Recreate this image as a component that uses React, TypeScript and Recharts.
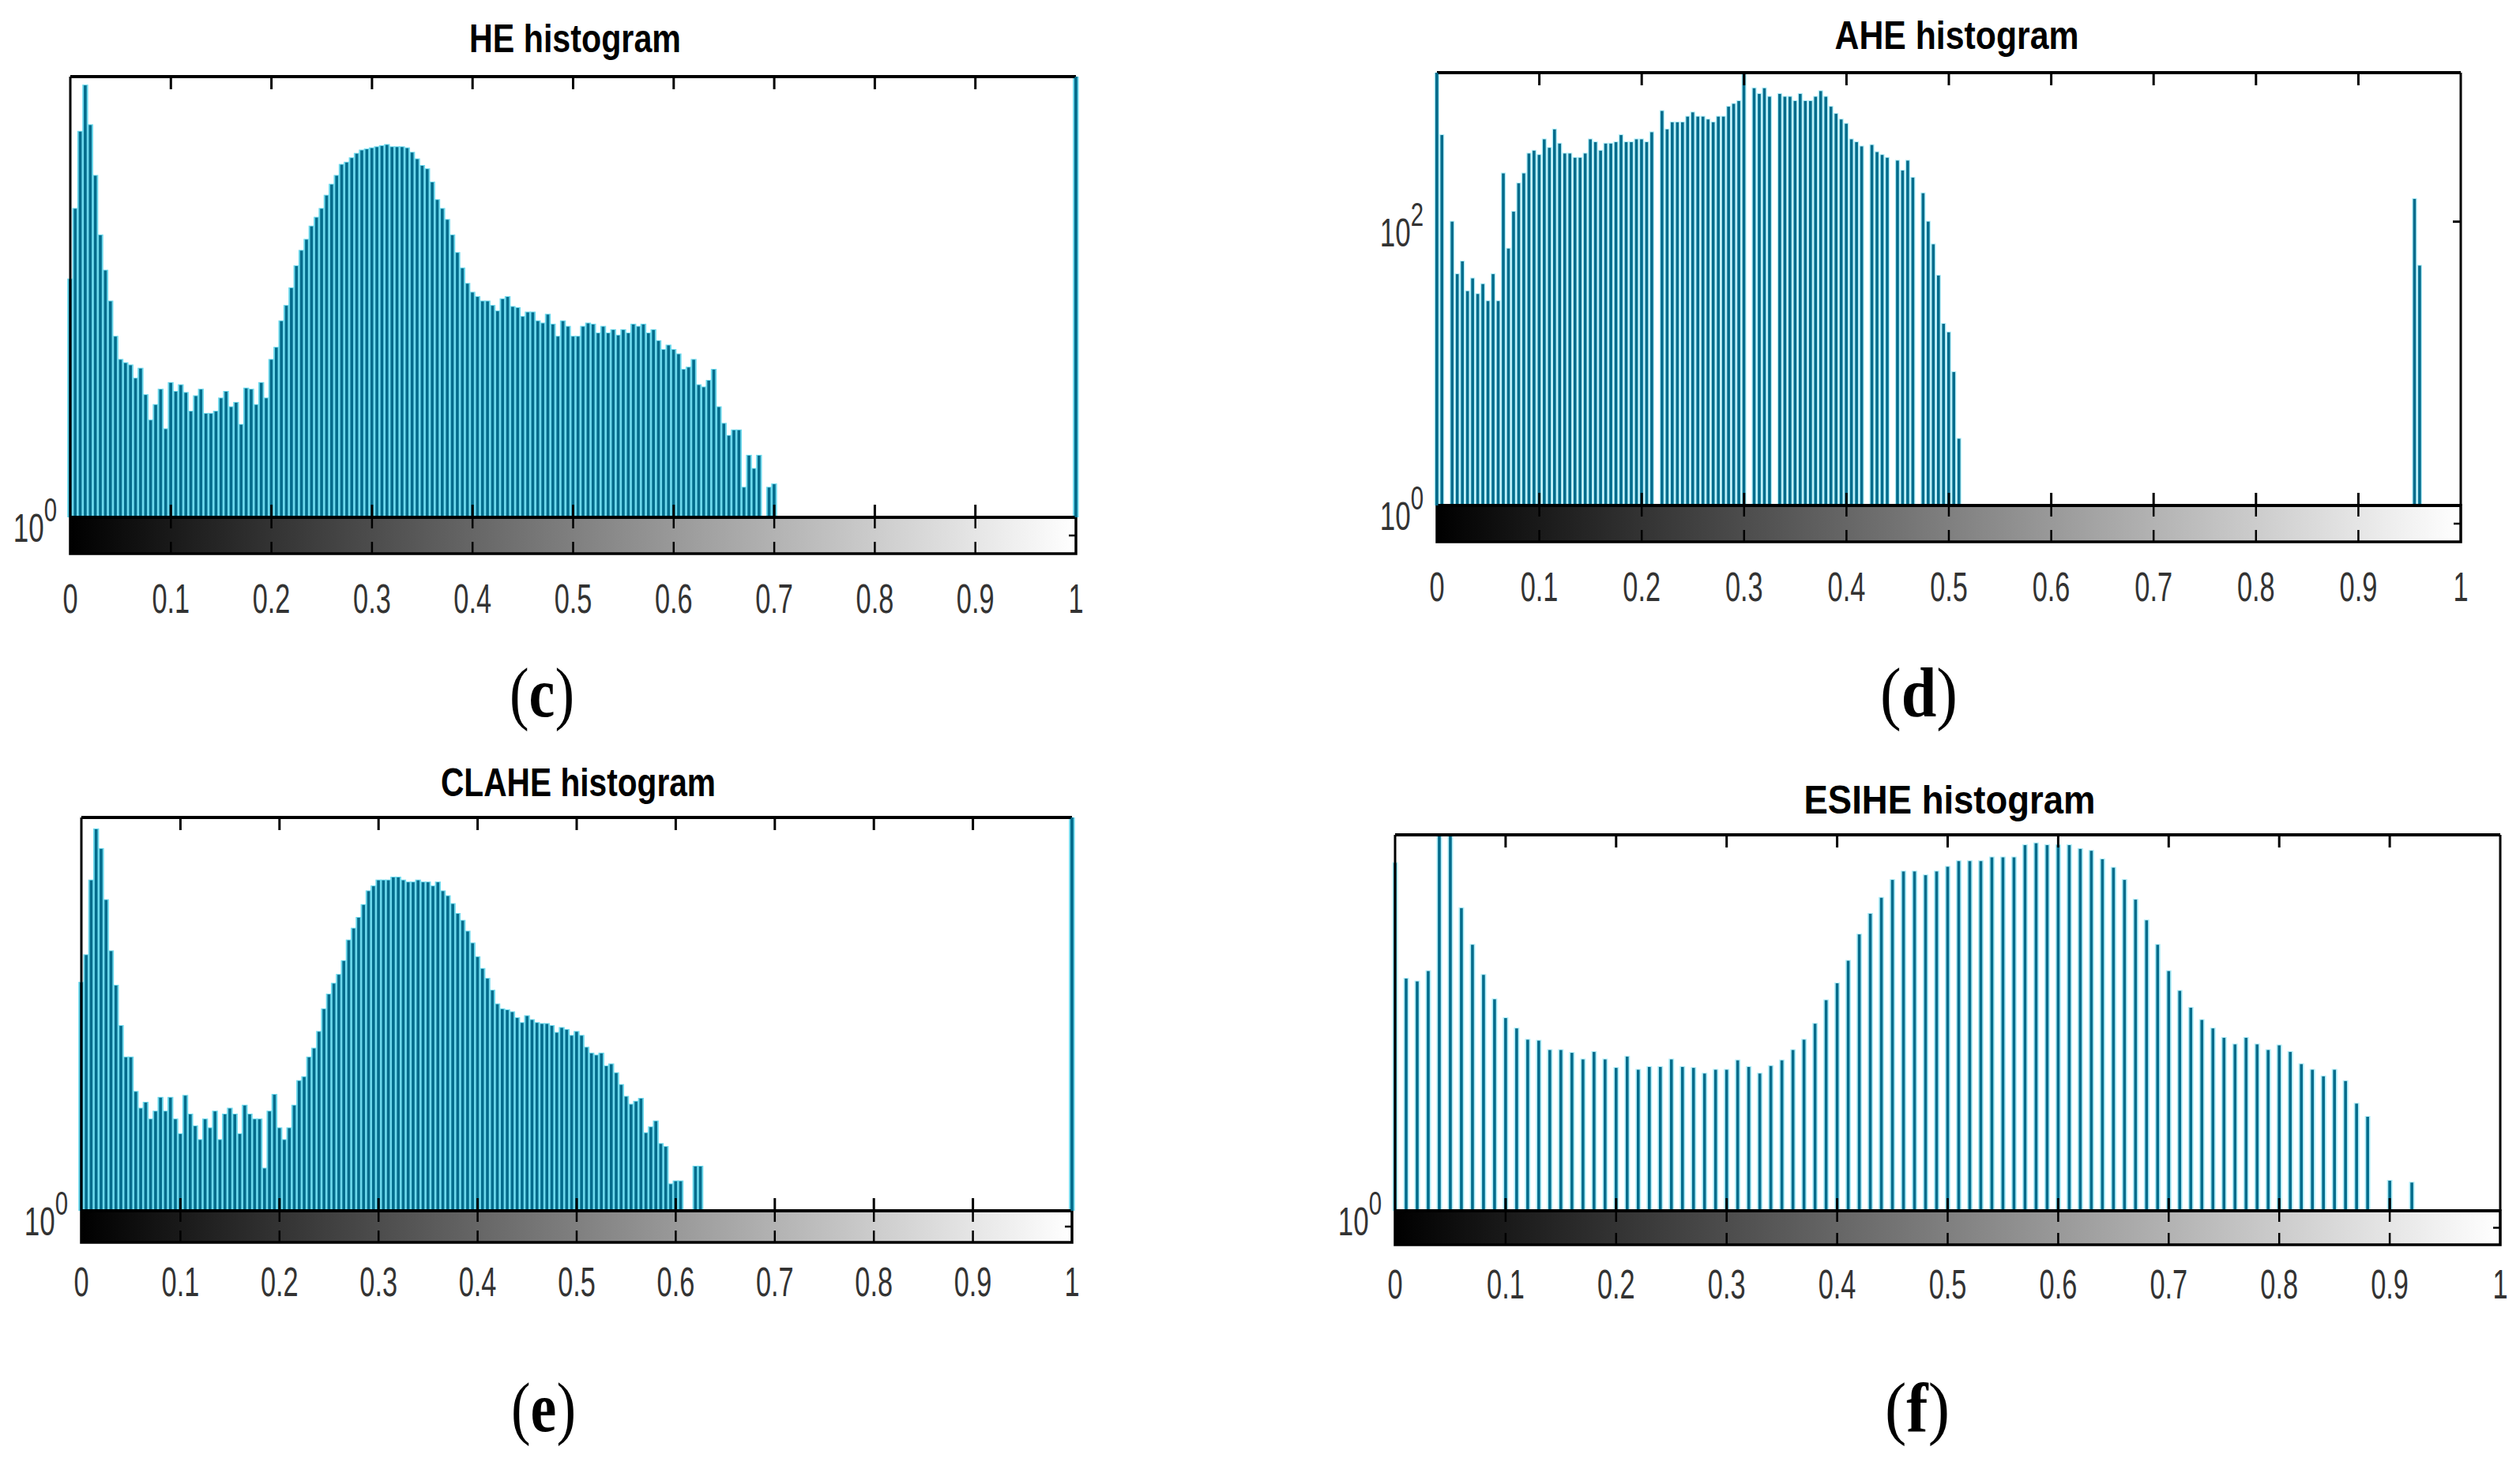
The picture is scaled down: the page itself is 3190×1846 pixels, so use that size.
import { Bar, BarChart, XAxis, YAxis } from "recharts";

// histogram bins (fraction of full intensity range)
const BIN = 0.005;
const ESIHE_BIN = 0.01;

const X_TICKS = [0, 0.1, 0.2, 0.3, 0.4, 0.5, 0.6, 0.7, 0.8, 0.9, 1];
const X_TICK_LABELS = ["0", "0.1", "0.2", "0.3", "0.4", "0.5", "0.6", "0.7", "0.8", "0.9", "1"];

// log10(pixel count) per bin
const HE_LOG = [
  2.16, 2.8, 3.5, 3.92, 3.56, 3.1, 2.56, 2.24, 1.96, 1.64,
  1.43, 1.4, 1.38, 1.26, 1.35, 1.11, 0.88, 1.02, 1.16, 0.8,
  1.22, 1.14, 1.2, 1.13, 0.96, 1.1, 1.16, 0.94, 0.94, 0.96,
  1.08, 1.14, 1.0, 1.04, 0.84, 1.17, 1.16, 1.02, 1.22, 1.08,
  1.43, 1.54, 1.78, 1.92, 2.08, 2.28, 2.42, 2.52, 2.64, 2.72,
  2.8, 2.92, 3.02, 3.1, 3.2, 3.22, 3.26, 3.3, 3.33, 3.34,
  3.35, 3.36, 3.37, 3.38, 3.36, 3.36, 3.36, 3.35, 3.31, 3.25,
  3.19, 3.16, 3.04, 2.88, 2.8, 2.7, 2.56, 2.4, 2.26, 2.12,
  2.04, 2.0, 1.96, 1.96, 1.92, 1.87, 1.98, 2.0, 1.91, 1.9,
  1.82, 1.86, 1.86, 1.78, 1.76, 1.84, 1.75, 1.64, 1.78, 1.73,
  1.64, 1.64, 1.73, 1.76, 1.75, 1.67, 1.73, 1.67, 1.7, 1.65,
  1.7, 1.67, 1.75, 1.73, 1.75, 1.67, 1.7, 1.6, 1.52, 1.56,
  1.52, 1.48, 1.34, 1.36, 1.43, 1.2, 1.18, 1.24, 1.34, 1.0,
  0.85, 0.74, 0.79, 0.79, 0.27, 0.56, 0.44, 0.56, 0, 0.27,
  0.3,
];
const HE_WHITE_LOG = 4.0;

const AHE_LOG = [
  3.05, 2.61, 0, 2.0, 1.63, 1.72, 1.51, 1.6, 1.49, 1.56,
  1.44, 1.63, 1.44, 2.34, 1.81, 2.07, 2.27, 2.34, 2.48, 2.5,
  2.47, 2.58, 2.52, 2.65, 2.55, 2.48, 2.48, 2.45, 2.45, 2.48,
  2.58, 2.56, 2.5, 2.55, 2.55, 2.56, 2.61, 2.56, 2.56, 2.58,
  2.58, 2.56, 2.63, 0, 2.78, 2.65, 2.7, 2.7, 2.7, 2.74,
  2.77, 2.74, 2.74, 2.72, 2.7, 2.74, 2.74, 2.81, 2.83, 2.85,
  3.05, 0, 2.94, 2.9, 2.94, 2.88, 0, 2.9, 2.88, 2.88,
  2.85, 2.9, 2.85, 2.85, 2.88, 2.92, 2.88, 2.81, 2.76, 2.72,
  2.69, 2.58, 2.56, 2.53, 0, 2.54, 2.49, 2.47, 2.45, 0,
  2.43, 2.36, 2.43, 2.31, 0, 2.2, 2.0, 1.84, 1.62, 1.28,
  1.22, 0.94, 0.47,
];
const AHE_TAIL_X = [0.955, 0.96];
const AHE_TAIL_LOG = [2.16, 1.69];

const CLAHE_LOG = [
  2.32, 2.6, 3.36, 3.88, 3.68, 3.16, 2.64, 2.29, 1.88, 1.56,
  1.56, 1.21, 1.04, 1.1, 0.93, 1.01, 1.15, 1.01, 1.15, 0.93,
  0.78, 1.17, 0.98, 0.86, 0.72, 0.93, 0.84, 1.01, 0.72, 0.98,
  1.04, 0.98, 0.78, 1.07, 0.98, 0.93, 0.93, 0.43, 1.01, 1.18,
  0.84, 0.72, 0.84, 1.07, 1.32, 1.36, 1.56, 1.65, 1.82, 2.05,
  2.2, 2.31, 2.4, 2.54, 2.75, 2.87, 2.98, 3.11, 3.25, 3.3,
  3.36, 3.36, 3.36, 3.39, 3.39, 3.36, 3.34, 3.34, 3.36, 3.34,
  3.34, 3.3, 3.34, 3.25, 3.2, 3.12, 3.02, 2.95, 2.84, 2.72,
  2.58, 2.46, 2.36, 2.24, 2.1, 2.05, 2.04, 2.02, 1.96, 1.91,
  1.98, 1.94, 1.91, 1.9, 1.9, 1.88, 1.81, 1.86, 1.84, 1.78,
  1.82, 1.78, 1.66, 1.6, 1.58, 1.6, 1.47, 1.49, 1.4, 1.28,
  1.16, 1.08, 1.11, 1.14, 0.79, 0.85, 0.91, 0.68, 0.65, 0.27,
  0.3, 0.3, 0, 0, 0.45, 0.45,
];
const CLAHE_WHITE_LOG = 4.0;

const ESIHE_LOG = [
  3.7, 2.47, 2.44, 2.55, 4.0, 4.0, 3.22, 2.83, 2.51, 2.25,
  2.05, 1.94, 1.82, 1.81, 1.71, 1.71, 1.68, 1.61, 1.69, 1.61,
  1.52, 1.64, 1.5, 1.53, 1.53, 1.61, 1.53, 1.52, 1.46, 1.5,
  1.5, 1.6, 1.53, 1.46, 1.54, 1.6, 1.71, 1.82, 1.99, 2.24,
  2.42, 2.66, 2.94, 3.16, 3.33, 3.52, 3.61, 3.61, 3.57, 3.61,
  3.66, 3.72, 3.72, 3.72, 3.76, 3.76, 3.76, 3.89, 3.91, 3.89,
  3.89, 3.89, 3.85, 3.83, 3.74, 3.65, 3.52, 3.31, 3.09, 2.83,
  2.55, 2.34, 2.16, 2.03, 1.94, 1.84, 1.77, 1.84, 1.77, 1.71,
  1.76, 1.69, 1.56, 1.5, 1.43, 1.5, 1.38, 1.14, 1.0, 0,
  0.32, 0, 0.3,
];

const toCount = (e: number) => (e > 0 ? Math.pow(10, e) : null);

const heRows = [
  ...HE_LOG.map((e, i) => ({ x: i * BIN, v: toCount(e) })),
  { x: 1, v: toCount(HE_WHITE_LOG) },
];
const aheRows = [
  ...AHE_LOG.map((e, i) => ({ x: i * BIN, v: toCount(e) })),
  ...AHE_TAIL_LOG.map((e, i) => ({ x: AHE_TAIL_X[i], v: toCount(e) })),
];
const claheRows = [
  ...CLAHE_LOG.map((e, i) => ({ x: i * BIN, v: toCount(e) })),
  { x: 1, v: toCount(CLAHE_WHITE_LOG) },
];
const esiheRows = ESIHE_LOG.map((e, i) => ({ x: i * ESIHE_BIN, v: toCount(e) }));

const TEAL = "#036c8c";
const SANS = "'Liberation Sans', Arial, sans-serif";
const SERIF = "'Liberation Serif', 'Times New Roman', serif";

const AXW = 130; // left axis band
const RW = 14; // right axis band
const TOPH = 10; // top axis band
const BOTH = 150; // bottom axis band (colour bar + labels)

interface PanelCfg {
  id: string;
  title: string;
  titleX: number;
  titleY: number;
  titleW: number;
  left: number;
  right: number;
  top: number;
  base: number;
  cb: number;
  labelGap: number;
  yTopExp: number;
  leftTicks: number[];
  rightTicks: number[];
  leftColor: string;
  rightColor: string;
  halo: string;
  haloW: number;
  pitch: number;
  rows: { x: number; v: number | null }[];
}

const PANELS: PanelCfg[] = [
  {
    id: "he", title: "HE histogram", titleX: 728, titleY: 66, titleW: 268,
    left: 89, right: 1362, top: 97, base: 655, cb: 701, labelGap: 75,
    yTopExp: 4, leftTicks: [1], rightTicks: [], leftColor: "#000", rightColor: TEAL,
    halo: "#6cd8ec", haloW: 7.4, pitch: 6, rows: heRows,
  },
  {
    id: "ahe", title: "AHE histogram", titleX: 2477, titleY: 62, titleW: 309,
    left: 1819, right: 3115, top: 92, base: 640, cb: 686, labelGap: 75,
    yTopExp: 3.05, leftTicks: [1, 100], rightTicks: [100], leftColor: TEAL, rightColor: "#000",
    halo: "#b0edf8", haloW: 6.2, pitch: 6, rows: aheRows,
  },
  {
    id: "clahe", title: "CLAHE histogram", titleX: 732, titleY: 1008, titleW: 348,
    left: 103, right: 1357, top: 1035, base: 1533, cb: 1573, labelGap: 68,
    yTopExp: 4, leftTicks: [1], rightTicks: [], leftColor: "#000", rightColor: TEAL,
    halo: "#6cd8ec", haloW: 7.4, pitch: 6, rows: claheRows,
  },
  {
    id: "esihe", title: "ESIHE histogram", titleX: 2468, titleY: 1030, titleW: 369,
    left: 1766, right: 3165, top: 1057, base: 1533, cb: 1576, labelGap: 68,
    yTopExp: 4, leftTicks: [1], rightTicks: [], leftColor: "#000", rightColor: "#000",
    halo: "#b0edf8", haloW: 7.0, pitch: 12, rows: esiheRows,
  },
];

const PANEL_LABELS = [
  { letter: "c", x: 686, y: 907, w: 82 },
  { letter: "d", x: 2429, y: 907, w: 98 },
  { letter: "e", x: 688, y: 1812, w: 82 },
  { letter: "f", x: 2427, y: 1812, w: 82 },
];

const BAR_W = 3.6;

function HistPanel({ p }: { p: PanelCfg }) {
  const plotW = p.right - p.left;
  const plotH = p.base - p.top;
  const W = AXW + plotW + RW;
  const H = TOPH + plotH + BOTH;
  const baseY = TOPH + plotH;
  const cbY = baseY + (p.cb - p.base);
  const rightX = AXW + plotW;

  const barShape = (props: any) => {
    const { x, y, width, height } = props;
    if (!(height > 0)) return <g />;
    const cx = x + width / 2;
    return (
      <g>
        <rect x={cx - p.haloW / 2} y={y - 1} width={p.haloW} height={height + 1} fill={p.halo} />
        <rect x={cx - BAR_W / 2} y={y} width={BAR_W} height={height} fill={TEAL} />
      </g>
    );
  };

  const bottomTick = (props: any) => {
    const { x, payload } = props;
    const idx = X_TICKS.findIndex((t) => Math.abs(t - payload.value) < 1e-9);
    const edge = idx === 0 || idx === X_TICKS.length - 1;
    return (
      <g>
        {!edge && (
          <g stroke="#000">
            <line x1={x} x2={x} y1={baseY} y2={baseY - 16} strokeWidth={3} />
            <line x1={x} x2={x} y1={baseY} y2={baseY + 14} strokeWidth={2.5} />
            <line x1={x} x2={x} y1={cbY - 15} y2={cbY} strokeWidth={2.5} />
          </g>
        )}
        <text
          transform={`translate(${x},${cbY + p.labelGap}) scale(0.66,1)`}
          textAnchor="middle"
          fontFamily={SANS}
          fontSize={52}
          fill="#333"
        >
          {X_TICK_LABELS[idx]}
        </text>
      </g>
    );
  };

  const topTick = (props: any) => {
    const { x, payload } = props;
    if (payload.value <= 0 || payload.value >= 1) return <g />;
    return <line x1={x} x2={x} y1={TOPH} y2={TOPH + 16} stroke="#000" strokeWidth={3} />;
  };

  const leftTick = (props: any) => {
    const { y, payload } = props;
    const exp = Math.round(Math.log10(payload.value));
    return (
      <text
        transform={`translate(${AXW - 17},${y}) scale(0.7,1)`}
        textAnchor="end"
        fontFamily={SANS}
        fill="#333"
      >
        <tspan fontSize={50} dy={31}>10</tspan>
        <tspan fontSize={42} dy={-26}>{exp}</tspan>
      </text>
    );
  };

  const rightTick = (props: any) => {
    const { y } = props;
    return <line x1={rightX} x2={rightX - 10} y1={y} y2={y} stroke="#000" strokeWidth={3} />;
  };

  const yDomain = [1, Math.pow(10, p.yTopExp)];

  return (
    <div style={{ position: "absolute", left: p.left - AXW, top: p.top - TOPH }}>
      <BarChart
        width={W}
        height={H}
        data={p.rows}
        margin={{ top: 0, right: 0, bottom: 0, left: 0 }}
        barSize={p.pitch}
      >
        <XAxis
          xAxisId="b"
          dataKey="x"
          type="number"
          domain={[0, 1]}
          ticks={X_TICKS}
          interval={0}
          height={BOTH}
          axisLine={{ stroke: "#000", strokeWidth: 4 }}
          tickLine={false}
          tick={bottomTick}
        />
        <XAxis
          xAxisId="t"
          orientation="top"
          dataKey="x"
          type="number"
          domain={[0, 1]}
          ticks={X_TICKS}
          interval={0}
          height={TOPH}
          axisLine={{ stroke: "#000", strokeWidth: 4 }}
          tickLine={false}
          tick={topTick}
        />
        <YAxis
          yAxisId="l"
          type="number"
          scale="log"
          domain={yDomain}
          allowDataOverflow
          ticks={p.leftTicks}
          interval={0}
          width={AXW}
          axisLine={{ stroke: p.leftColor, strokeWidth: 3 }}
          tickLine={false}
          tick={leftTick}
        />
        <YAxis
          yAxisId="r"
          orientation="right"
          type="number"
          scale="log"
          domain={yDomain}
          allowDataOverflow
          ticks={p.rightTicks.length ? p.rightTicks : undefined}
          interval={0}
          width={RW}
          axisLine={{ stroke: p.rightColor, strokeWidth: 3 }}
          tickLine={false}
          tick={p.rightTicks.length ? rightTick : false}
        />
        <Bar
          xAxisId="b"
          yAxisId="l"
          dataKey="v"
          shape={barShape}
          isAnimationActive={false}
        />
      </BarChart>
    </div>
  );
}

export default function App() {
  return (
    <div
      style={{
        position: "absolute",
        left: 0,
        top: 0,
        width: 3190,
        height: 1846,
        background: "#fff",
        overflow: "hidden",
      }}
    >
      <svg width={3190} height={1846} style={{ position: "absolute", left: 0, top: 0 }}>
        <defs>
          <linearGradient id="grayRamp" x1="0" y1="0" x2="1" y2="0">
            <stop offset="0" stopColor="#000" />
            <stop offset="1" stopColor="#fff" />
          </linearGradient>
        </defs>
        {PANELS.map((p) => (
          <g key={p.id}>
            <rect
              x={p.left}
              y={p.base}
              width={p.right - p.left}
              height={p.cb - p.base}
              fill="url(#grayRamp)"
              stroke="#000"
              strokeWidth={3.5}
            />
            <line
              x1={p.right}
              x2={p.right - 9}
              y1={(p.base + p.cb) / 2}
              y2={(p.base + p.cb) / 2}
              stroke="#000"
              strokeWidth={2.5}
            />
            <text
              x={p.titleX}
              y={p.titleY}
              textAnchor="middle"
              fontFamily={SANS}
              fontWeight="bold"
              fontSize={50}
              fill="#000"
              textLength={p.titleW}
              lengthAdjust="spacingAndGlyphs"
            >
              {p.title}
            </text>
          </g>
        ))}
        {PANEL_LABELS.map((l) => (
          <text
            key={l.letter}
            x={l.x}
            y={l.y}
            textAnchor="middle"
            fontFamily={SERIF}
            fontSize={88}
            fill="#000"
            textLength={l.w}
            lengthAdjust="spacingAndGlyphs"
          >
            (<tspan fontWeight="bold">{l.letter}</tspan>)
          </text>
        ))}
      </svg>
      {PANELS.map((p) => (
        <HistPanel key={p.id} p={p} />
      ))}
    </div>
  );
}
